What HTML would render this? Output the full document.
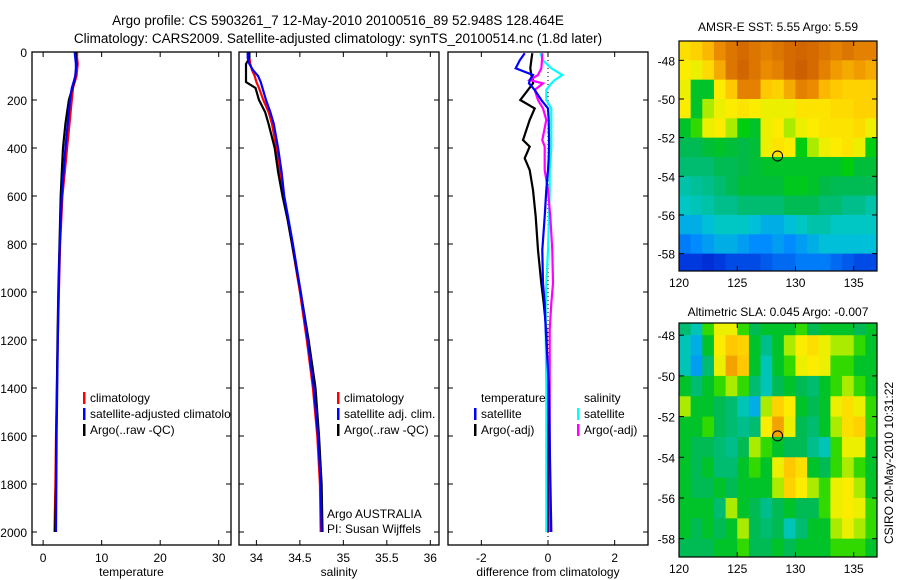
<!DOCTYPE html>
<html><head><meta charset="utf-8"><style>
body{margin:0;background:#fff;}
svg{display:block;font-family:"Liberation Sans",sans-serif;}
</style></head><body>
<svg id="fig" width="900" height="580" viewBox="0 0 900 580" xmlns="http://www.w3.org/2000/svg">
<rect width="900" height="580" fill="#fff"/>
<defs><clipPath id="c1"><rect x="32" y="52" width="199" height="493"/></clipPath></defs>
<text x="338" y="25" font-size="13.5" text-anchor="middle">Argo profile: CS 5903261_7 12-May-2010 20100516_89 52.948S 128.464E</text>
<text x="338" y="43" font-size="13.5" text-anchor="middle">Climatology: CARS2009. Satellite-adjusted climatology: synTS_20100514.nc (1.8d later)</text>
<text x="778" y="31" font-size="12" text-anchor="middle">AMSR-E SST: 5.55 Argo: 5.59</text>
<text x="778" y="316" font-size="12" text-anchor="middle">Altimetric SLA: 0.045 Argo: -0.007</text>
<text transform="translate(893,463) rotate(-90)" font-size="12" text-anchor="middle">CSIRO 20-May-2010 10:31:22</text>
<g id="plots"></g>
</svg>
<script>
// ---- profile data ----
const depths = [0,25,50,75,100,125,150,200,250,300,400,500,600,700,800,1000,1200,1400,1600,1800,2000];
const tempClim = [5.8,5.8,5.9,5.8,5.7,5.4,5.1,4.9,4.7,4.5,4.1,3.7,3.3,3.1,2.9,2.7,2.5,2.35,2.2,2.1,1.95];
const tempSat  = [5.4,5.5,5.6,5.6,5.5,5.2,4.9,4.6,4.4,4.2,3.8,3.5,3.2,3.0,2.85,2.65,2.5,2.4,2.3,2.25,2.2];
const tempArgo = [5.6,5.6,5.7,5.6,5.5,5.3,5.0,4.4,4.1,3.8,3.4,3.2,3.0,2.9,2.8,2.6,2.45,2.35,2.25,2.2,2.05];
const salClim = [33.92,33.92,33.93,33.95,33.98,34.0,34.03,34.08,34.14,34.18,34.23,34.27,34.31,34.36,34.41,34.5,34.58,34.65,34.7,34.73,34.74];
const salSat  = [33.9,33.9,33.92,33.96,34.02,34.05,34.07,34.11,34.16,34.2,34.25,34.29,34.32,34.37,34.42,34.51,34.59,34.66,34.71,34.74,34.75];
const salArgo = [33.92,33.92,33.88,33.88,33.88,33.88,33.99,34.03,34.1,34.14,34.21,34.25,34.3,34.36,34.41,34.51,34.6,34.68,34.72,34.75,34.76];
const diffDepths = [5,35,68,96,117,131,158,200,235,283,367,394,443,492,575,686,825,964,1047,1158,1400,1700,2000];
const diffTempArgo = [-0.47,-0.5,-0.53,-0.5,-0.45,-0.45,-0.6,-0.83,-0.4,-0.55,-0.75,-0.55,-0.7,-0.55,-0.45,-0.37,-0.3,-0.2,-0.13,-0.05,0,0,0];
const diffTempSat = [-0.7,-0.85,-0.97,-0.45,-0.55,-0.57,-0.4,-0.2,0,0.02,0.03,0.03,0.02,0.0,-0.05,-0.1,-0.17,-0.15,-0.1,-0.07,0.03,0.06,0.1];
const diffSalSat = [-0.23,-0.15,0.1,0.43,0.2,0.1,-0.05,-0.05,0.1,0.1,0.1,0.1,0.08,0.05,0.05,0.03,0,-0.05,-0.07,-0.07,-0.05,-0.05,-0.05];
const diffSalArgo = [-0.17,-0.18,-0.2,-0.3,-0.55,-0.15,-0.4,-0.3,-0.15,-0.05,-0.17,-0.1,-0.1,-0.1,0,0.07,0.13,0.15,0.1,0.05,0.05,0.05,0.05];
const depthTicks = [0,200,400,600,800,1000,1200,1400,1600,1800,2000];
const tempTicks = [0,10,20,30];
const salTicks = [34,34.5,35,35.5,36];
const salTickLabels = ["34","34.5","35","35.5","36"];
const diffTicks = [-2,0,2];
const lonTicks = [120,125,130,135];
const latTicks = [-48,-50,-52,-54,-56,-58];
// ---- map data (normalized colour index 0..1), rows lat -47..-59, cols lon 120..137 ----
const sstGrid = [
[0.65,0.68,0.72,0.78,0.82,0.84,0.82,0.8,0.82,0.84,0.85,0.84,0.82,0.8,0.82,0.8,0.8],
[0.62,0.6,0.66,0.74,0.82,0.85,0.82,0.78,0.8,0.84,0.86,0.84,0.8,0.76,0.74,0.76,0.74],
[0.6,0.45,0.45,0.62,0.7,0.8,0.8,0.7,0.68,0.74,0.8,0.78,0.72,0.7,0.68,0.68,0.68],
[0.62,0.45,0.55,0.6,0.62,0.64,0.62,0.6,0.6,0.6,0.64,0.64,0.64,0.66,0.66,0.68,0.68],
[0.45,0.5,0.6,0.62,0.55,0.47,0.45,0.6,0.62,0.55,0.6,0.62,0.64,0.64,0.64,0.66,0.6],
[0.42,0.42,0.44,0.45,0.44,0.43,0.44,0.6,0.64,0.62,0.47,0.55,0.6,0.62,0.64,0.6,0.47],
[0.4,0.4,0.4,0.42,0.42,0.43,0.44,0.45,0.45,0.45,0.45,0.45,0.45,0.45,0.47,0.44,0.44],
[0.36,0.37,0.38,0.4,0.42,0.44,0.44,0.44,0.44,0.46,0.46,0.45,0.43,0.42,0.42,0.42,0.42],
[0.34,0.35,0.36,0.38,0.38,0.4,0.4,0.4,0.4,0.42,0.42,0.42,0.4,0.4,0.38,0.38,0.36],
[0.3,0.3,0.32,0.34,0.34,0.34,0.32,0.3,0.3,0.32,0.34,0.36,0.36,0.34,0.34,0.34,0.34],
[0.24,0.26,0.28,0.3,0.3,0.28,0.26,0.26,0.28,0.26,0.28,0.3,0.32,0.32,0.32,0.32,0.32],
[0.16,0.16,0.14,0.16,0.18,0.18,0.18,0.2,0.22,0.22,0.24,0.24,0.24,0.22,0.2,0.18,0.18]];
const slaGrid = [
[0.4,0.35,0.5,0.6,0.6,0.5,0.42,0.45,0.45,0.45,0.5,0.42,0.45,0.45,0.45,0.42,0.45],
[0.35,0.3,0.45,0.62,0.7,0.68,0.45,0.38,0.45,0.55,0.62,0.65,0.6,0.55,0.55,0.5,0.45],
[0.35,0.28,0.4,0.6,0.75,0.7,0.45,0.35,0.45,0.5,0.6,0.62,0.6,0.5,0.5,0.45,0.45],
[0.45,0.4,0.45,0.5,0.55,0.5,0.4,0.35,0.42,0.45,0.42,0.4,0.45,0.5,0.55,0.5,0.45],
[0.55,0.45,0.45,0.42,0.4,0.35,0.3,0.55,0.68,0.62,0.45,0.42,0.45,0.6,0.65,0.6,0.5],
[0.45,0.45,0.5,0.42,0.4,0.38,0.4,0.62,0.75,0.6,0.42,0.4,0.45,0.55,0.65,0.68,0.5],
[0.45,0.42,0.42,0.4,0.38,0.42,0.55,0.5,0.45,0.42,0.42,0.38,0.35,0.5,0.6,0.6,0.45],
[0.45,0.42,0.45,0.4,0.4,0.45,0.5,0.45,0.6,0.7,0.65,0.45,0.42,0.5,0.55,0.5,0.45],
[0.45,0.42,0.42,0.45,0.42,0.45,0.45,0.45,0.55,0.68,0.62,0.55,0.5,0.6,0.62,0.55,0.45],
[0.45,0.45,0.45,0.4,0.55,0.45,0.42,0.38,0.42,0.45,0.42,0.42,0.5,0.6,0.62,0.6,0.5],
[0.45,0.42,0.45,0.42,0.45,0.55,0.42,0.4,0.42,0.35,0.4,0.45,0.45,0.55,0.6,0.55,0.5],
[0.42,0.42,0.42,0.45,0.45,0.5,0.42,0.42,0.45,0.42,0.45,0.45,0.45,0.5,0.5,0.5,0.45]];
const argoPos = [128.464,-52.948];

const NS="http://www.w3.org/2000/svg";
const root=document.getElementById('plots');
function mk(tag,attrs,parent){const e=document.createElementNS(NS,tag);for(const k in attrs)e.setAttribute(k,attrs[k]);(parent||root).appendChild(e);return e;}
function txt(s,x,y,anchor,size,parent){const t=mk('text',{x:x,y:y,'text-anchor':anchor,'font-size':size},parent);t.textContent=s;return t;}

const PT=52, PB=545, DMAX=(PB-PT)/0.24;
const yD=d=>PT+d*(PB-PT)/DMAX;
function panel(name,x0,x1,xmin,xmax){
  const g=mk('g',{});
  
  
  const sx=v=>x0+(v-xmin)/(xmax-xmin)*(x1-x0);
  return {g,sx,x0,x1};
}
function frame(p,xt,xl,xlabel,showDepthLabels){
  const r=mk('rect',{x:p.x0,y:PT,width:p.x1-p.x0,height:PB-PT,fill:'none',stroke:'#000','stroke-width':1.3},p.g);
  
  
  depthTicks.forEach(d=>{
    const y=yD(d);
    mk('line',{x1:p.x0,x2:p.x0+5,y1:y,y2:y,stroke:'#000'},p.g);
    mk('line',{x1:p.x1-5,x2:p.x1,y1:y,y2:y,stroke:'#000'},p.g);
    if(showDepthLabels){const t=txt(String(d),27,y+5,'end',12,p.g);
      
      }
  });
  xt.forEach((v,i)=>{
    const x=p.sx(v);
    mk('line',{x1:x,x2:x,y1:PB,y2:PB-5,stroke:'#000'},p.g);
    mk('line',{x1:x,x2:x,y1:PT,y2:PT+5,stroke:'#000'},p.g);
    const t=txt(xl[i],x,562,'middle',12,p.g);
    
    
  });
  const t=txt(xlabel,(p.x0+p.x1)/2,576,'middle',12,p.g);
  
  
}
function line(p,ds,vs,color,name,w){
  const pts=ds.map((d,i)=>p.sx(vs[i]).toFixed(1)+','+yD(d).toFixed(1)).join(' ');
  const l=mk('polyline',{points:pts,fill:'none',stroke:color,'stroke-width':w||2.2,'stroke-linejoin':'miter'},p.g);
  
  
}
function legend(p,x,y,color,label,name,clip){
  const g=mk('g',clip?{'clip-path':'url(#'+clip+')'}:{},p.g);
  
  
  if(color) mk('rect',{x:x,y:y-10,width:2.5,height:12,fill:color},g);
  txt(label,x+7,y,'start',12,g);
}

// temperature panel
const p1=panel('temperature-panel',32,231,-1.9,32.1);
line(p1,depths,tempClim,'#f00','temp-climatology-line');
line(p1,depths,tempArgo,'#000','temp-argo-line');
line(p1,depths,tempSat,'#00f','temp-satellite-line');
frame(p1,tempTicks,tempTicks.map(String),'temperature',true);
legend(p1,83,402,'#f00','climatology','legend-climatology','c1');
legend(p1,83,418,'#00f','satellite-adjusted climatology','legend-satellite-adjusted','c1');
legend(p1,83,434,'#000','Argo(..raw -QC)','legend-argo','c1');

// salinity panel
const p2=panel('salinity-panel',239,439,33.8,36.1);
line(p2,depths,salClim,'#f00','sal-climatology-line');
line(p2,depths,salArgo,'#000','sal-argo-line');
line(p2,depths,salSat,'#00f','sal-satellite-line');
frame(p2,salTicks,salTickLabels,'salinity',false);
legend(p2,337,402,'#f00','climatology','legend-climatology');
legend(p2,337,418,'#00f','satellite adj. clim.','legend-satellite-adj');
legend(p2,337,434,'#000','Argo(..raw -QC)','legend-argo');
const a1=txt('Argo AUSTRALIA',327,518,'start',12,p2.g);


const a2=txt('PI: Susan Wijffels',327,533,'start',12,p2.g);



// difference panel
const p3=panel('difference-panel',448,648,-3,3);
const zl=mk('line',{x1:p3.sx(0),x2:p3.sx(0),y1:PT,y2:PB,stroke:'#000','stroke-dasharray':'1,3'},p3.g);


line(p3,diffDepths,diffTempArgo,'#000','diff-temp-argo-line');
line(p3,diffDepths,diffSalSat,'#0ff','diff-sal-satellite-line');
line(p3,diffDepths,diffSalArgo,'#f0f','diff-sal-argo-line');
line(p3,diffDepths,diffTempSat,'#00f','diff-temp-satellite-line');
frame(p3,diffTicks,diffTicks.map(String),'difference from climatology',false);
legend(p3,474,402,null,'temperature','legend-temperature-header');
legend(p3,474,418,'#00f','satellite','legend-temp-satellite');
legend(p3,474,434,'#000','Argo(-adj)','legend-temp-argo');
legend(p3,577,402,null,'salinity','legend-salinity-header');
legend(p3,577,418,'#0ff','satellite','legend-sal-satellite');
legend(p3,577,434,'#f0f','Argo(-adj)','legend-sal-argo');

// colormap (matches reference palette)
const cmapStops=[[0,[0,0,130]],[0.15,[0,50,220]],[0.26,[0,140,255]],[0.33,[0,200,210]],[0.38,[0,190,140]],[0.43,[0,185,70]],[0.48,[0,210,0]],[0.55,[170,235,0]],[0.61,[250,240,0]],[0.7,[255,200,0]],[0.78,[235,140,0]],[0.86,[205,95,0]],[1,[160,60,0]]];
function cmap(v){
  v=Math.max(0,Math.min(1,v));
  for(let i=1;i<cmapStops.length;i++){
    if(v<=cmapStops[i][0]){
      const [a,ca]=cmapStops[i-1],[b,cb]=cmapStops[i];const t=(v-a)/(b-a);
      return 'rgb('+ca.map((c,k)=>Math.round(c+(cb[k]-c)*t)).join(',')+')';
    }
  }
  return 'rgb(160,60,0)';
}
function map(name,grid,x0,x1,yTop,yBot,latTop,latBot){
  const g=mk('g',{});
  
  
  const sx=v=>x0+(v-120)/(137-120)*(x1-x0);
  const sy=v=>yTop+(latTop-v)/(latTop-latBot)*(yBot-yTop);
  const clipId=name+'-clip';
  const cp=mk('clipPath',{id:clipId},g);mk('rect',{x:x0,y:yTop,width:x1-x0,height:yBot-yTop},cp);
  const cg=mk('g',{'clip-path':'url(#'+clipId+')'},g);
  grid.forEach((row,i)=>row.forEach((v,j)=>{
    const xa=sx(120+j),xb=sx(121+j),ya=sy(-47-i),yb=sy(-48-i);
    const c=mk('rect',{x:xa,y:ya,width:xb-xa+0.6,height:yb-ya+0.6,fill:cmap(v)},cg);
    
    
  }));
  mk('rect',{x:x0,y:yTop,width:x1-x0,height:yBot-yTop,fill:'none',stroke:'#000','stroke-width':1.2},g);
  lonTicks.forEach(v=>{const x=sx(v);
    mk('line',{x1:x,x2:x,y1:yBot,y2:yBot-5,stroke:'#000'},g);
    mk('line',{x1:x,x2:x,y1:yTop,y2:yTop+5,stroke:'#000'},g);
    const t=txt(String(v),x,yBot+16,'middle',12,g);
    
    });
  latTicks.forEach(v=>{const y=sy(v);
    mk('line',{x1:x0,x2:x0+5,y1:y,y2:y,stroke:'#000'},g);
    mk('line',{x1:x1-5,x2:x1,y1:y,y2:y,stroke:'#000'},g);
    const t=txt(String(v),x0-4,y+5,'end',12,g);
    
    });
  const m=mk('circle',{cx:sx(argoPos[0]),cy:sy(argoPos[1]),r:5,fill:'none',stroke:'#000','stroke-width':1},g);
  
  
}
map('sst-map',sstGrid,679,877,41,271,-47,-58.9);
map('sla-map',slaGrid,679,877,323,557,-47.4,-58.9);
</script>
</body></html>
